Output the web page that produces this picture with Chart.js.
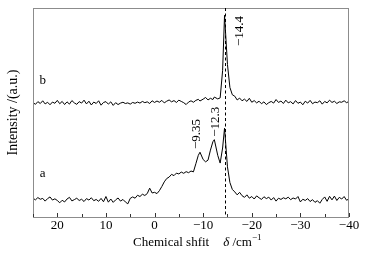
<!DOCTYPE html>
<html>
<head>
<meta charset="utf-8">
<script src="https://cdn.jsdelivr.net/npm/chart.js@4/dist/chart.umd.min.js"></script>
<style>
  html, body { margin: 0; padding: 0; background: #ffffff; }
  #wrap { width: 367px; height: 259px; position: relative; }
</style>
</head>
<body>
<div id="wrap"><canvas id="c"></canvas></div>
<script>
// Chemical shift values (x), shared by both spectra
const shifts = [
  25,24.5,24,23.5,23,22.5,22,21.5,21,20.5,
  20,19.5,19,18.5,18,17.5,17,16.5,16,15.5,
  15,14.5,14,13.5,13,12.5,12,11.5,11,10.5,
  10,9.5,9,8.5,8,7.5,7,6.5,6,5.5,
  5,4.5,4,3.5,3,2.5,2,1.5,1,0.5,
  0,-0.5,-1,-1.5,-2,-2.5,-3,-3.5,-4,-4.5,
  -5,-5.5,-6,-6.5,-7,-7.5,-8,-8.5,-9,-9.35,
  -10,-10.5,-11,-11.5,-12,-12.3,-13,-13.5,-14,-14.4,
  -15,-15.5,-16,-16.5,-17,-17.5,-18,-18.5,-19,-19.5,
  -20,-20.5,-21,-21.5,-22,-22.5,-23,-23.5,-24,-24.5,
  -25,-25.5,-26,-26.5,-27,-27.5,-28,-28.5,-29,-29.5,
  -30,-30.5,-31,-31.5,-32,-32.5,-33,-33.5,-34,-34.5,
  -35,-35.5,-36,-36.5,-37,-37.5,-38,-38.5,-39,-39.5,
  -40
];
// Spectrum a (lower trace), arbitrary intensity units
const spectrumA = [
  9.0,8.2,9.3,8.5,8.9,7.6,8.8,9.6,8.1,8.7,
  7.9,6.8,8.0,7.2,8.6,9.4,7.7,8.3,9.0,7.9,
  8.5,7.4,8.8,8.1,9.2,7.8,8.4,7.5,8.9,7.3,
  9.8,7.1,8.6,7.0,8.2,9.1,7.6,8.4,7.2,6.3,
  8.9,9.6,9.0,10.4,9.8,10.9,10.3,11.2,13.8,11.5,
  11.8,11.2,12.6,14.6,16.8,18.4,19.1,20.4,19.8,21.0,
  20.6,21.5,20.9,21.7,21.2,22.0,21.6,25.5,29.5,31.0,
  27.5,26.4,27.2,32.0,36.0,37.0,29.5,25.8,33.0,42.5,
  24.0,16.5,13.2,12.0,10.6,11.8,10.2,9.4,10.6,9.0,
  9.8,8.6,10.1,9.2,8.4,9.7,8.8,9.5,8.1,9.3,
  7.6,9.0,8.4,9.2,8.7,9.5,8.3,9.1,8.6,9.8,
  7.2,8.5,7.9,8.8,7.4,8.3,7.0,7.8,6.6,8.4,
  9.6,7.5,9.9,8.2,10.0,7.9,9.4,8.6,9.8,8.0,
  8.7
];
// Spectrum b (upper trace)
const spectrumB = [
  54.8,53.9,55.2,54.3,55.6,54.1,54.9,53.7,55.0,54.4,
  55.8,54.2,55.3,53.8,55.1,54.0,55.7,54.6,53.9,55.2,
  54.5,55.9,54.1,55.4,53.6,55.0,54.3,55.6,53.5,54.8,
  55.2,54.0,55.1,53.4,54.7,53.8,54.5,54.9,54.3,54.6,
  54.0,54.8,54.4,55.0,54.5,55.3,54.7,55.1,54.3,55.6,
  54.8,55.5,54.9,55.8,54.6,55.4,56.0,55.1,55.7,54.8,
  55.9,55.3,54.7,53.8,55.0,55.6,54.9,55.8,56.3,55.5,
  56.4,57.2,56.0,56.8,56.2,57.4,56.5,57.0,70.0,96.5,
  73.0,62.0,58.5,57.8,56.0,56.9,55.6,56.4,55.3,56.8,
  54.9,55.7,54.6,55.4,54.2,55.1,53.8,54.7,55.3,54.5,
  56.2,54.8,55.5,54.3,55.9,54.6,55.2,54.1,55.7,54.4,
  55.0,53.7,55.4,54.5,55.8,54.2,55.0,54.7,55.6,54.0,
  55.3,54.6,55.9,54.8,55.4,54.3,55.1,54.9,55.6,54.7,
  55.3
];
// Peak annotations
const peakShifts = [-9.35, -12.3, -14.4];
const peakLabels = ['\u22129.35', '\u221212.3', '\u221214.4'];
const markerShift = -14.4;
const traceNames = ['a', 'b'];
const xTickValues = [20, 10, 0, -10, -20, -30, -40];

const FONT = '"Liberation Serif", "Times New Roman", serif';

function toXY(xs, ys) { return xs.map((x, i) => ({ x: x, y: ys[i] })); }

const overlay = {
  id: 'overlay',
  afterDatasetsDraw(chart) {
    const ctx = chart.ctx;
    const xs = chart.scales.x, ys = chart.scales.y;
    const a = chart.chartArea;
    ctx.save();
    // frame
    ctx.strokeStyle = '#8c8c8c';
    ctx.lineWidth = 1;
    ctx.strokeRect(Math.round(a.left) + 0.5, Math.round(a.top) + 0.5,
                   Math.round(a.right - a.left) - 1, Math.round(a.bottom - a.top));
    // inward ticks
    ctx.strokeStyle = '#333';
    xs.ticks.forEach(t => {
      const px = Math.round(xs.getPixelForValue(t.value)) + 0.5;
      const len = (t.value % 10 === 0) ? 4 : 3;
      ctx.beginPath();
      ctx.moveTo(px, a.bottom);
      ctx.lineTo(px, a.bottom - len);
      ctx.stroke();
    });
    // dashed marker
    const mx = Math.round(xs.getPixelForValue(markerShift)) + 0.5;
    ctx.strokeStyle = '#000';
    ctx.setLineDash([3, 2.5]);
    ctx.beginPath();
    ctx.moveTo(mx, a.top);
    ctx.lineTo(mx, a.bottom);
    ctx.stroke();
    ctx.setLineDash([]);
    // peak labels (rotated)
    ctx.fillStyle = '#000';
    ctx.font = '13px ' + FONT;
    ctx.textAlign = 'center';
    ctx.textBaseline = 'middle';
    const offs = [[-3, 39.7], [1, 45.6], [15, 89]];
    peakShifts.forEach((s, i) => {
      const px = xs.getPixelForValue(s) + offs[i][0];
      const py = ys.getPixelForValue(offs[i][1]);
      ctx.save();
      ctx.translate(px, py);
      ctx.rotate(-Math.PI / 2);
      ctx.fillText(peakLabels[i], 0, 0);
      ctx.restore();
    });
    // trace names
    ctx.fillText(traceNames[0], xs.getPixelForValue(23), ys.getPixelForValue(20.6));
    ctx.fillText(traceNames[1], xs.getPixelForValue(23), ys.getPixelForValue(65.5));
    // x axis title with italic delta and superscript
    const ty = 243;
    let x = a.left + 100;
    ctx.textAlign = 'left';
    ctx.font = '13px ' + FONT;
    const t1 = 'Chemical shfit';
    ctx.fillText(t1, x, ty);
    x += ctx.measureText(t1).width + 14;
    ctx.font = 'italic 13px ' + FONT;
    ctx.fillText('\u03b4', x, ty);
    x += ctx.measureText('\u03b4').width;
    ctx.font = '13px ' + FONT;
    const t2 = ' /cm';
    ctx.fillText(t2, x, ty);
    x += ctx.measureText(t2).width;
    ctx.font = '9px ' + FONT;
    ctx.fillText('\u22121', x, ty - 5);
    ctx.restore();
  }
};

new Chart(document.getElementById('c'), {
  type: 'line',
  data: {
    datasets: [
      { label: 'a', data: toXY(shifts, spectrumA), borderColor: '#000', borderWidth: 1, pointRadius: 0, tension: 0, fill: false },
      { label: 'b', data: toXY(shifts, spectrumB), borderColor: '#000', borderWidth: 1, pointRadius: 0, tension: 0, fill: false }
    ]
  },
  options: {
    responsive: true,
    maintainAspectRatio: false,
    animation: false,
    devicePixelRatio: 1,
    layout: { padding: { top: 8, right: 18, left: 0, bottom: 0 } },
    plugins: { legend: { display: false }, tooltip: { enabled: false } },
    scales: {
      x: {
        type: 'linear',
        min: -40, max: 25, reverse: true,
        grid: { display: false, drawTicks: false, tickLength: 0 },
        border: { display: false },
        ticks: {
          stepSize: 5, autoSkip: false, maxRotation: 0, padding: 1,
          color: '#000', font: { family: FONT, size: 13 },
          callback: v => xTickValues.includes(v) ? (v < 0 ? '\u2212' + Math.abs(v) : String(v)) : ''
        },
        afterFit: s => { s.height = 42; }
      },
      y: {
        min: 0, max: 100,
        grid: { display: false },
        border: { display: false },
        ticks: { display: false },
        title: { display: true, text: 'Intensity /(a.u.)', color: '#000', font: { family: FONT, size: 14 }, padding: { top: 5, bottom: 0 } },
        afterFit: s => { s.width = 33; }
      }
    }
  },
  plugins: [overlay]
});
</script>
</body>
</html>
